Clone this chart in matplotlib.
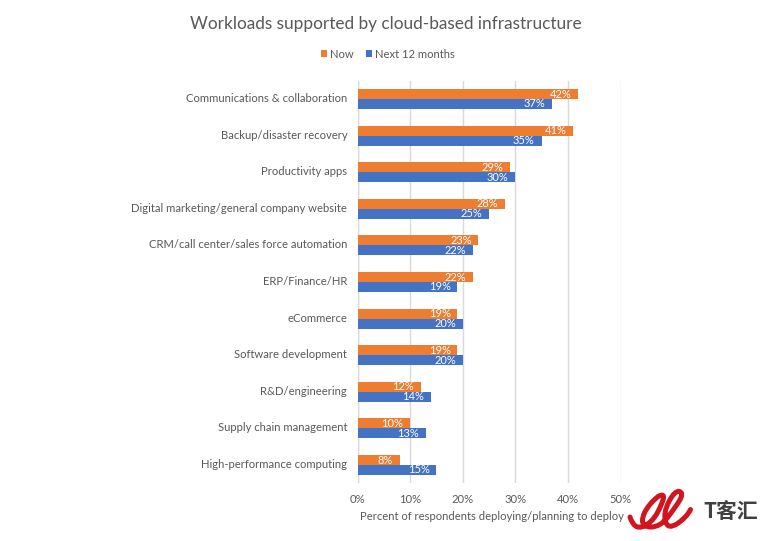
import matplotlib
matplotlib.use("Agg")
import matplotlib.pyplot as plt
from matplotlib.path import Path
from matplotlib.patches import PathPatch
from matplotlib.transforms import ScaledTranslation
import numpy as np

categories = ["Communications & collaboration", "Backup/disaster recovery", "Productivity apps",
              "Digital marketing/general company website", "CRM/call center/sales force automation",
              "ERP/Finance/HR", "eCommerce", "Software development", "R&D/engineering",
              "Supply chain management", "High-performance computing"]
now = [42, 41, 29, 28, 23, 22, 19, 19, 12, 10, 8]
next12 = [37, 35, 30, 25, 22, 19, 20, 20, 14, 13, 15]
ticks = [0, 10, 20, 30, 40, 50]

W, H = 770, 541
plt.rcParams['font.family'] = ['Lato', 'DejaVu Sans']
fig = plt.figure(figsize=(W/100, H/100), dpi=100)
L, R, T, B = 357.5, 620.5, 80.7, 483.3
ax = fig.add_axes([L/W, 1-B/H, (R-L)/W, (B-T)/H])
y = np.arange(len(categories))
h = 0.272
ax.barh(y-h/2, now, h, color="#ED7D31", label="Now", zorder=3)
ax.barh(y+h/2, next12, h, color="#4472C4", label="Next 12 months", zorder=3)
for i, (a, b) in enumerate(zip(now, next12)):
    ax.text(a-1.3, i-h/2, f"{a}%", ha="right", va="center", color="white", fontsize=8, zorder=4)
    ax.text(b-1.3, i+h/2, f"{b}%", ha="right", va="center", color="white", fontsize=8, zorder=4)
ax.set_xlim(0, 50)
ax.set_ylim(len(categories)-0.5, -0.5)
ax.set_yticks(y, categories)
ax.set_xticks(ticks, [f"{t}%" for t in ticks])
ax.grid(axis="x", color="#D9D9D9", lw=1, zorder=0)
ax.tick_params(length=0, labelsize=8.1, labelcolor="#595959")
ax.tick_params(axis="y", pad=7.4)
ax.tick_params(axis="x", pad=8)
up = ScaledTranslation(0, 1.5/100, fig.dpi_scale_trans)
for lab in ax.get_yticklabels():
    lab.set_transform(lab.get_transform() + up)
for s in ax.spines.values():
    s.set_visible(False)
ax.axvline(0, color="#D9D9D9", lw=1, zorder=1)

fig.text(385.5/W, 1-24/H, "Workloads supported by cloud-based infrastructure", ha="center", va="center",
         fontsize=12.4, color="#595959")
fig.legend(loc="center", bbox_to_anchor=(388/W, 1-54/H), ncol=2, frameon=False, fontsize=8.1,
           labelcolor="#595959", handlelength=0.55, handleheight=0.55, handletextpad=0.3, columnspacing=1.05)
fig.text(492/W, 1-517/H, "Percent of respondents deploying/planning to deploy", ha="center", va="center",
         fontsize=8.1, color="#595959")

# watermark logo: a cursive red ribbon
logo = [(630, 517), (634, 530), (652, 523), (663, 502), (664, 494), (656, 497), (643, 513), (642, 527),
        (660, 527), (675, 508), (684, 493), (675, 490), (663, 513), (668, 530), (687, 517), (694, 502)]
verts = [logo[0]]
codes = [Path.MOVETO]
for p, q in zip(logo[1:-1], logo[2:]):
    verts += [p, ((p[0]+q[0])/2, (p[1]+q[1])/2)]
    codes += [Path.CURVE3, Path.CURVE3]
verts = [(vx/W, 1-vy/H) for vx, vy in verts]
fig.add_artist(PathPatch(Path(verts, codes), fc="none", ec="#D2141E", lw=3.6, capstyle="round",
                         transform=fig.transFigure))
fig.text(731/W, 1-512/H, "T客汇", ha="center", va="center", fontsize=15, color="#404040",
         family=["Noto Sans CJK SC", "DejaVu Sans"], weight="bold")
fig.savefig("out.png", dpi=100)
